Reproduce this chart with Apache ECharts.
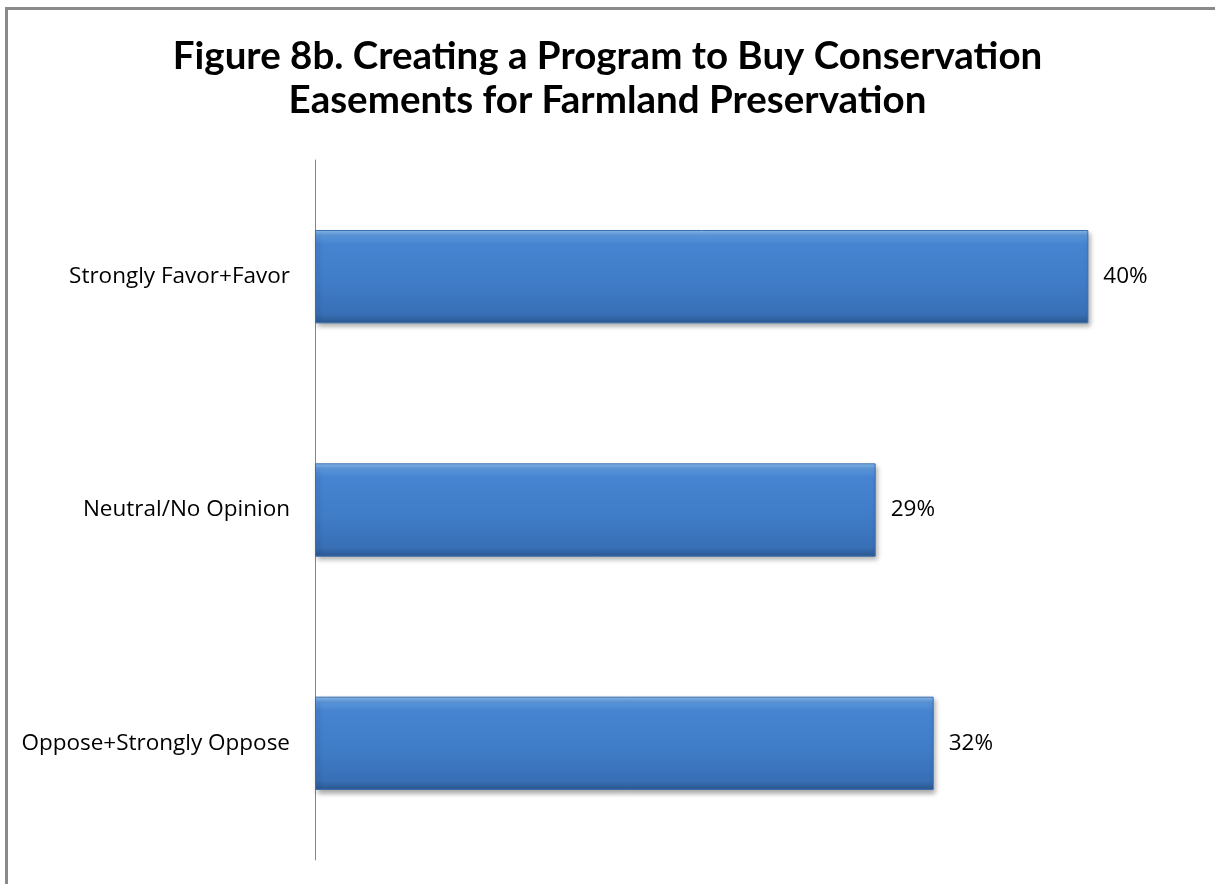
<!DOCTYPE html>
<html>
<head>
<meta charset="utf-8">
<style>
  html, body { margin: 0; padding: 0; background: #fff; }
  #frame { position: absolute; left: 5px; top: 7px; width: 1230px; height: 900px;
           border-left: 3px solid #8a8a8a; border-top: 3px solid #8a8a8a; box-sizing: border-box; }
  #chart { position: absolute; left: 0; top: 0; width: 1215px; height: 884px; }
</style>
<script src="https://cdn.jsdelivr.net/npm/echarts@6/dist/echarts.min.js"></script>
</head>
<body>
<div id="frame"></div>
<div id="chart"></div>
<script>
// Survey responses on a conservation-easement purchase program
const categories = ['Strongly Favor+Favor', 'Neutral/No Opinion', 'Oppose+Strongly Oppose'];
const shares = [40, 29, 32];
const titleLines = ['Figure 8b. Creating a Program to Buy Conservation', 'Easements for Farmland Preservation'];

const chart = echarts.init(document.getElementById('chart'), null, { renderer: 'canvas' });

const barFill = new echarts.graphic.LinearGradient(0, 0, 0, 1, [
  { offset: 0.00, color: '#8cc0f2' },
  { offset: 0.06, color: '#5b97dc' },
  { offset: 0.15, color: '#4684d1' },
  { offset: 0.55, color: '#407dc8' },
  { offset: 0.90, color: '#386fb6' },
  { offset: 1.00, color: '#2b5890' }
]);

chart.setOption({
  backgroundColor: 'transparent',
  animation: false,
  title: {
    text: titleLines.join('\n'),
    left: 'center',
    top: 30,
    textStyle: { fontFamily: 'Lato', fontWeight: 'bold', fontSize: 38.5, lineHeight: 44, color: '#000' }
  },
  grid: { left: 315, top: 160, height: 700, right: 30, containLabel: false },
  xAxis: {
    type: 'value', min: 0, max: 45,
    show: false
  },
  yAxis: {
    type: 'category',
    data: categories,
    inverse: true,
    axisLine: { show: true, lineStyle: { color: '#868686', width: 1 } },
    axisTick: { show: false },
    axisLabel: { margin: 25, color: '#000', fontFamily: 'Open Sans', fontSize: 22.5 }
  },
  series: [{
    type: 'bar',
    data: shares,
    barCategoryGap: '60%',
    itemStyle: {
      color: barFill,
      borderColor: '#3a6eae',
      borderWidth: 1,
      shadowColor: 'rgba(0,0,0,0.35)',
      shadowBlur: 5,
      shadowOffsetX: 2,
      shadowOffsetY: 3
    },
    label: {
      show: true, position: 'right', distance: 15,
      formatter: p => p.value + '%',
      color: '#000', fontFamily: 'Open Sans', fontSize: 22.5
    }
  }]
});
</script>
</body>
</html>
